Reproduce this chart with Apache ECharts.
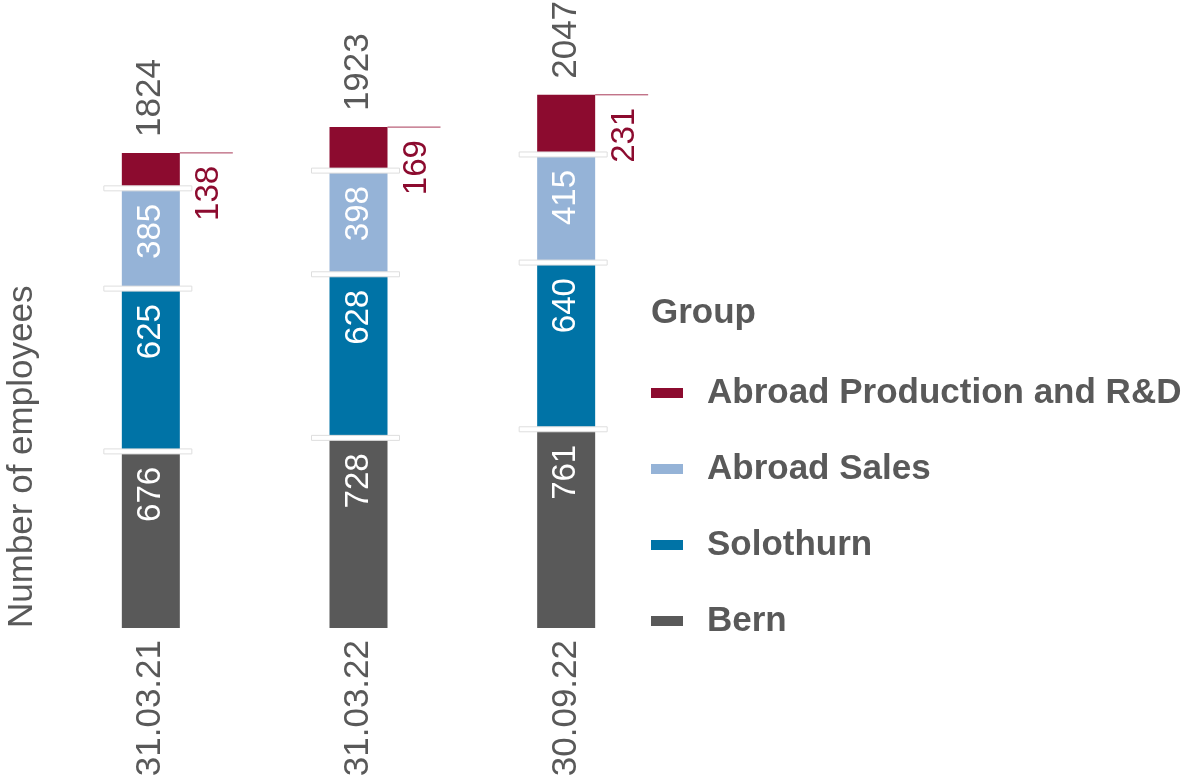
<!DOCTYPE html>
<html>
<head>
<meta charset="utf-8">
<title>Number of employees</title>
<script src="https://cdn.jsdelivr.net/npm/echarts@6/dist/echarts.min.js"></script>
<style>
  html, body { margin: 0; padding: 0; background: #fff; }
  #chart { width: 1189px; height: 781px; }
</style>
</head>
<body>
<div id="chart"></div>
<script>
var dates = ['31.03.21', '31.03.22', '30.09.22'];
var bern = [676, 728, 761];
var solothurn = [625, 628, 640];
var abroadSales = [385, 398, 415];
var abroadProd = [138, 169, 231];
var totals = [1824, 1923, 2047];

var font = "'Liberation Sans', Arial, sans-serif";
var grey = '#595959';
var red = '#8c0b2f';
var barW = 58;

var myChart = echarts.init(document.getElementById('chart'));

function segLabel() {
    return {
        show: true, position: 'insideTop', distance: 15, rotate: 90,
        align: 'right', verticalAlign: 'middle',
        color: '#fff', fontSize: 33, fontFamily: font
    };
}

// stack boundaries, used for the white separators and the leader line
var bounds = dates.map(function (d, i) {
    var b1 = bern[i];
    var b2 = b1 + solothurn[i];
    var b3 = b2 + abroadSales[i];
    return [i, b1, b2, b3, b3 + abroadProd[i]];
});

function renderSep(params, api) {
    var idx = api.value(0);
    var children = [];
    for (var k = 1; k <= 3; k++) {
        var p = api.coord([idx, api.value(k)]);
        children.push({
            type: 'rect',
            shape: { x: p[0] - barW / 2 - 18, y: p[1] - 3, width: barW + 30, height: 5 },
            style: { fill: '#fff', stroke: '#dedede', lineWidth: 1 }
        });
    }
    var t = api.coord([idx, api.value(4)]);
    children.push({
        type: 'line',
        shape: { x1: t[0] + barW / 2, y1: t[1], x2: t[0] + barW / 2 + 53, y2: t[1] },
        style: { stroke: '#a83a58', lineWidth: 1 }
    });
    return { type: 'group', children: children };
}

var option = {
    animation: false,
    title: {
        text: 'Group',
        left: 646,
        top: 291,
        textStyle: { fontSize: 35, fontWeight: 'bold', color: grey, fontFamily: font }
    },
    legend: {
        orient: 'vertical',
        left: 646,
        top: 363,
        itemWidth: 32,
        itemHeight: 10,
        itemGap: 26,
        icon: 'rect',
        selectedMode: false,
        data: ['Abroad Production and R&D', 'Abroad Sales', 'Solothurn', 'Bern'],
        textStyle: {
            fontSize: 35, fontWeight: 'bold', color: grey, fontFamily: font,
            lineHeight: 50, padding: [0, 0, 0, 19]
        }
    },
    grid: { left: 47, right: 519, top: 81, bottom: 153, outerBoundsMode: 'none' },
    xAxis: {
        type: 'category',
        data: dates,
        axisLine: { show: false },
        axisTick: { show: false },
        axisLabel: { rotate: 90, margin: 12, color: grey, fontSize: 35, fontFamily: font }
    },
    yAxis: {
        type: 'value',
        min: 0,
        max: 2100,
        show: false,
        splitLine: { show: false }
    },
    graphic: [{
        type: 'text',
        x: 22,
        y: 628,
        rotation: Math.PI / 2,
        style: {
            text: 'Number of employees',
            fontSize: 35, fontFamily: font, fill: grey,
            align: 'left', verticalAlign: 'middle'
        }
    }],
    series: [
        {
            name: 'Bern', type: 'bar', stack: 'total', barWidth: barW, barGap: '-100%',
            data: bern, itemStyle: { color: '#595959' }, label: segLabel()
        },
        {
            name: 'Solothurn', type: 'bar', stack: 'total', barWidth: barW, barGap: '-100%',
            data: solothurn, itemStyle: { color: '#0073a6' }, label: segLabel()
        },
        {
            name: 'Abroad Sales', type: 'bar', stack: 'total', barWidth: barW, barGap: '-100%',
            data: abroadSales, itemStyle: { color: '#95b3d7' }, label: segLabel()
        },
        {
            name: 'Abroad Production and R&D', type: 'bar', stack: 'total', barWidth: barW, barGap: '-100%',
            data: abroadProd, itemStyle: { color: red },
            label: {
                show: true, position: [barW + 13, 13], rotate: 90,
                align: 'right', verticalAlign: 'top',
                color: red, fontSize: 33, fontFamily: font
            }
        },
        {
            name: 'Total', type: 'bar', barWidth: barW, barGap: '-100%',
            data: totals, silent: true,
            itemStyle: { color: 'rgba(0,0,0,0)' },
            label: {
                show: true, position: 'top', distance: 16, rotate: 90,
                align: 'left', verticalAlign: 'middle',
                color: grey, fontSize: 35, fontFamily: font
            }
        },
        {
            name: 'sep', type: 'custom', silent: true, z: 5,
            data: bounds,
            encode: { x: 0, y: [1, 2, 3, 4] },
            renderItem: renderSep
        }
    ]
};

myChart.setOption(option);
</script>
</body>
</html>
